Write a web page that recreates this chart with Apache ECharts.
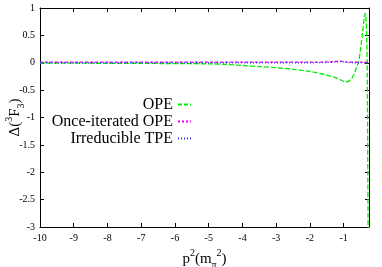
<!DOCTYPE html>
<html><head><meta charset="utf-8">
<script src="https://cdn.jsdelivr.net/npm/echarts@6/dist/echarts.min.js"></script>
<style>html,body{margin:0;padding:0;background:#fff}#c{width:382px;height:267px}</style>
</head><body><div id="c"></div>
<script>
const xTicks = [-10,-9,-8,-7,-6,-5,-4,-3,-2,-1];
const yTicks = [1,0.5,0,-0.5,-1,-1.5,-2,-2.5,-3];
const seriesNames = ['OPE','Once-iterated OPE','Irreducible TPE'];
const opeX = [-10,-9,-8,-7,-6,-5,-4.5,-4,-3.5,-3,-2.5,-2,-1.6,-1.3,-1.1,-1.0,-0.93,-0.86,-0.78,-0.7,-0.63,-0.56,-0.5,-0.45,-0.41,-0.38,-0.36,-0.34,-0.32,-0.305,-0.295,-0.285,-0.275];
const opeY = [-0.005,-0.007,-0.01,-0.012,-0.015,-0.02,-0.03,-0.05,-0.07,-0.09,-0.12,-0.16,-0.21,-0.26,-0.31,-0.34,-0.35,-0.34,-0.3,-0.22,-0.1,0.02,0.25,0.5,0.72,0.86,0.9,0.82,0.5,0,-0.8,-2,-3.2];
const onceX = [-10,-8,-6,-4,-3,-2,-1.5,-1.2,-1.1,-1.0,-0.9,-0.7,-0.5,-0.25];
const onceY = [0.01,0.01,0.01,0.01,0.01,0.01,0.015,0.025,0.03,0.025,0.01,0.01,0.01,0.01];
const tpeX = [-10,-8,-6,-4,-3,-2,-1.5,-1.2,-1.1,-1.0,-0.9,-0.7,-0.5,-0.25];
const tpeY = [0,0,0,0,0,0,0.005,0.015,0.02,0.015,0.005,0,0,0];
const colors = ['#00ee00','#ee00ee','#3333ff'];

function pairs(xs, ys){ return xs.map((x,i)=>[x, ys[i]]); }
const F = 'Liberation Serif';
const chart = echarts.init(document.getElementById('c'));
const line = {show:true,onZero:false,lineStyle:{color:'#000',width:1}};
const rich = {
  b:{fontFamily:F,fontSize:15,color:'#000',lineHeight:22,verticalAlign:'middle'},
  sup:{fontFamily:F,fontSize:10,color:'#000',verticalAlign:'top',lineHeight:22},
  sub:{fontFamily:F,fontSize:10,color:'#000',verticalAlign:'bottom',lineHeight:22}
};
const icons = [
  'path://M0,0h4v2h-4zM6,0h4v2h-4zM12,0h1v2h-1z',
  'path://M0,0h2v2h-2zM4,0h2v2h-2zM8,0h2v2h-2zM12,0h1v2h-1z',
  'path://M0,0h1v2h-1zM3,0h1v2h-1zM6,0h1v2h-1zM9,0h1v2h-1zM12,0h1v2h-1z'
];
chart.setOption({
  animation:false,
  grid:{left:40,right:13,top:8,bottom:40,show:false,outerBoundsMode:'none',containLabel:false},
  legend:{
    orient:'vertical', align:'right', right:186, top:91,
    itemGap:0, itemWidth:13, itemHeight:2,
    textStyle:{fontFamily:F,fontSize:16,color:'#000',lineHeight:17},
    data:seriesNames.map((n,i)=>({name:n,icon:icons[i],itemStyle:{color:colors[i],borderWidth:0}}))
  },
  xAxis:[
    {type:'value',min:-10,max:-0.25,position:'bottom',axisLine:line,splitLine:{show:false},
      axisTick:{show:true,inside:true,length:4,lineStyle:{color:'#000'},customValues:xTicks},
      axisLabel:{customValues:xTicks,fontFamily:F,fontSize:10,color:'#000',margin:6},
      name:'{b|p}{sup|2}{b|(m}{sub|π}{sup|2}{b|)}', nameLocation:'middle', nameGap:13,
      nameTextStyle:{fontFamily:F,color:'#000',rich:rich}},
    {type:'value',min:-10,max:-0.25,position:'top',axisLine:line,splitLine:{show:false},
      axisTick:{show:true,inside:true,length:4,lineStyle:{color:'#000'},customValues:xTicks},
      axisLabel:{show:false}}
  ],
  yAxis:[
    {type:'value',min:-3,max:1,interval:0.5,position:'left',axisLine:line,splitLine:{show:false},
      axisTick:{show:true,inside:true,length:4,lineStyle:{color:'#000'}},
      axisLabel:{fontFamily:F,fontSize:10,color:'#000',margin:5},
      name:'{b|Δ(}{sup|3}{b|F}{sub|3}{b|)}', nameLocation:'middle', nameGap:14, nameRotate:90,
      nameMoveOverlap:false,
      nameTextStyle:{fontFamily:F,color:'#000',rich:rich}},
    {type:'value',min:-3,max:1,interval:0.5,position:'right',axisLine:line,splitLine:{show:false},
      axisTick:{show:true,inside:true,length:4,lineStyle:{color:'#000'}},
      axisLabel:{show:false}}
  ],
  series:[
    {name:seriesNames[0],type:'line',data:pairs(opeX,opeY),showSymbol:false,smooth:0.3,
      lineStyle:{color:colors[0],width:1.3,type:[5,2]},itemStyle:{color:colors[0]},z:3},
    {name:seriesNames[1],type:'line',data:pairs(onceX,onceY),showSymbol:false,smooth:0.3,
      lineStyle:{color:colors[1],width:1.3,type:[3,2]},itemStyle:{color:colors[1]},z:4},
    {name:seriesNames[2],type:'line',data:pairs(tpeX,tpeY),showSymbol:false,smooth:0.3,
      lineStyle:{color:colors[2],width:1.3,type:[1,2]},itemStyle:{color:colors[2]},z:5}
  ]
});
</script></body></html>
